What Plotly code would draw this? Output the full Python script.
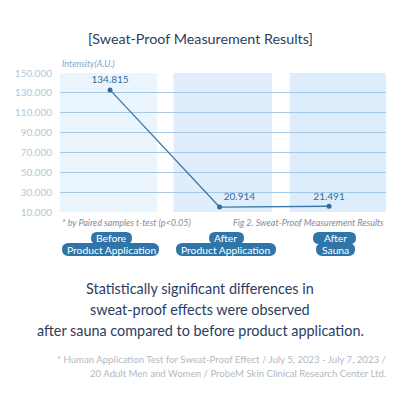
import plotly.graph_objects as go

# 측정 데이터
stages = [0, 1, 2]
stage_names = ["Before<br>Product Application", "After<br>Product Application", "After<br>Sauna"]
intensity = [133000, 15000, 15800]
value_labels = ["134.815", "20.914", "21.491"]
y_ticks = [10000, 30000, 50000, 70000, 90000, 110000, 130000, 150000]
y_tick_labels = ["10.000", "30.000", "50.000", "70.000", "90.000", "110.000", "130.000", "150.000"]

W, H = 416, 416
L, R, T, B = 60, 386, 73, 212


def px(x):
    return (x - L) / (R - L)


def py(y):
    return (B - y) / (B - T)


def pill(x0, x1, y0, y1, color="#2f75a8"):
    # 둥근 알약 모양 (Q 곡선)
    r = (y1 - y0) / 2
    pts = [
        f"M {px(x0 + r)} {py(y0)}",
        f"L {px(x1 - r)} {py(y0)}",
        f"Q {px(x1)} {py(y0)} {px(x1)} {py(y0 + r)}",
        f"Q {px(x1)} {py(y1)} {px(x1 - r)} {py(y1)}",
        f"L {px(x0 + r)} {py(y1)}",
        f"Q {px(x0)} {py(y1)} {px(x0)} {py(y1 - r)}",
        f"Q {px(x0)} {py(y0)} {px(x0 + r)} {py(y0)}",
        "Z",
    ]
    return dict(type="path", xref="paper", yref="paper", path=" ".join(pts),
                fillcolor=color, line=dict(width=0), layer="above")


fig = go.Figure()

fig.add_trace(go.Scatter(
    x=stages,
    y=intensity,
    mode="lines+markers+text",
    text=value_labels,
    textposition=["top center", "top right", "top center"],
    textfont=dict(family="Lato", size=10, color="#2f6f9c"),
    line=dict(color="#3b7aa6", width=1.3),
    marker=dict(color="#2f6f9c", size=5),
    cliponaxis=False,
    hoverinfo="skip",
))

# 배경 띠
band_spans = [(-0.457, 0.43, "#ebf5fd"), (0.58, 1.48, "#e0eefb"), (1.64, 2.52, "#deedfb")]
shapes = []
for x0, x1, c in band_spans:
    shapes.append(dict(type="rect", xref="x", yref="paper", x0=x0, x1=x1, y0=0, y1=1,
                       fillcolor=c, line=dict(width=0), layer="below"))

# 단계 라벨 배경
pill_boxes = [
    [(91, 132, 232, 244), (62, 159, 243, 256)],
    [(209, 244, 232, 244), (176, 276, 243, 256)],
    [(313, 356, 232, 244), (316, 355, 243, 256)],
]
for top, bot in pill_boxes:
    shapes.append(pill(*top))
    shapes.append(pill(*bot))

annotations = [
    dict(text="[Sweat-Proof Measurement Results]", x=px(200), y=py(39), xref="paper", yref="paper",
         showarrow=False, font=dict(family="Lato", size=14.3, color="#2c3d62"), xanchor="center", yanchor="middle"),
    dict(text="<i>Intensity(A.U.)</i>", x=0, y=py(64), xref="paper", yref="paper",
         showarrow=False, font=dict(family="Lato", size=9, color="#7fa7cb"), xanchor="left", yanchor="middle"),
    dict(text="<i>* by Paired samples t-test (p<0.05)</i>", x=0, y=py(222), xref="paper", yref="paper",
         showarrow=False, font=dict(family="Lato", size=9, color="#7f8c9c"), xanchor="left", yanchor="middle"),
    dict(text="<i>Fig 2. Sweat-Proof Measurement Results</i>", x=1, y=py(222), xref="paper", yref="paper",
         showarrow=False, font=dict(family="Lato", size=9, color="#7f8c9c"), xanchor="right", yanchor="middle"),
]

label_centers = [111, 226, 335]
for cx, name in zip(label_centers, stage_names):
    top, bot = name.split("<br>")
    annotations.append(dict(text=top, x=px(cx), y=py(238), xref="paper", yref="paper", showarrow=False,
                            font=dict(family="Lato", size=10.3, color="white"), xanchor="center", yanchor="middle"))
    annotations.append(dict(text=bot, x=px(cx), y=py(249.5), xref="paper", yref="paper", showarrow=False,
                            font=dict(family="Lato", size=10.3, color="white"), xanchor="center", yanchor="middle"))

summary = ["Statistically significant differences in",
           "sweat-proof effects were observed",
           "after sauna compared to before product application."]
for i, line in enumerate(summary):
    annotations.append(dict(text=line, x=px(200), y=py(288 + i * 21), xref="paper", yref="paper",
                            showarrow=False, font=dict(family="Lato", size=14.4, color="#2c3d62"),
                            xanchor="center", yanchor="middle"))

footnote = ["* Human Application Test for Sweat-Proof Effect / July 5, 2023 - July 7, 2023 /",
            "20 Adult Men and Women / ProbeM Skin Clinical Research Center Ltd."]
for i, line in enumerate(footnote):
    annotations.append(dict(text=line, x=px(388), y=py(359 + i * 14), xref="paper", yref="paper",
                            showarrow=False, font=dict(family="Lato", size=9.6, color="#b4b9c1"),
                            xanchor="right", yanchor="middle"))

fig.update_layout(
    width=W, height=H,
    margin=dict(l=L, r=W - R, t=T, b=H - B),
    paper_bgcolor="white",
    plot_bgcolor="white",
    showlegend=False,
    shapes=shapes,
    annotations=annotations,
    xaxis=dict(range=[-0.457, 2.52], showgrid=False, zeroline=False, showticklabels=False, fixedrange=True),
    yaxis=dict(range=[10000, 150000], tickvals=y_ticks, ticktext=y_tick_labels,
               showgrid=True, gridcolor="#a6c8e4", gridwidth=1, zeroline=False,
               showline=False, ticks="", ticklabelstandoff=7,
               tickfont=dict(family="Lato", size=10, color="#b0c8dd"), fixedrange=True),
)

# 페이지 여백 제거
fig.write_html("out.html", config={"displayModeBar": False},
               post_script="document.body.style.margin='0';")
